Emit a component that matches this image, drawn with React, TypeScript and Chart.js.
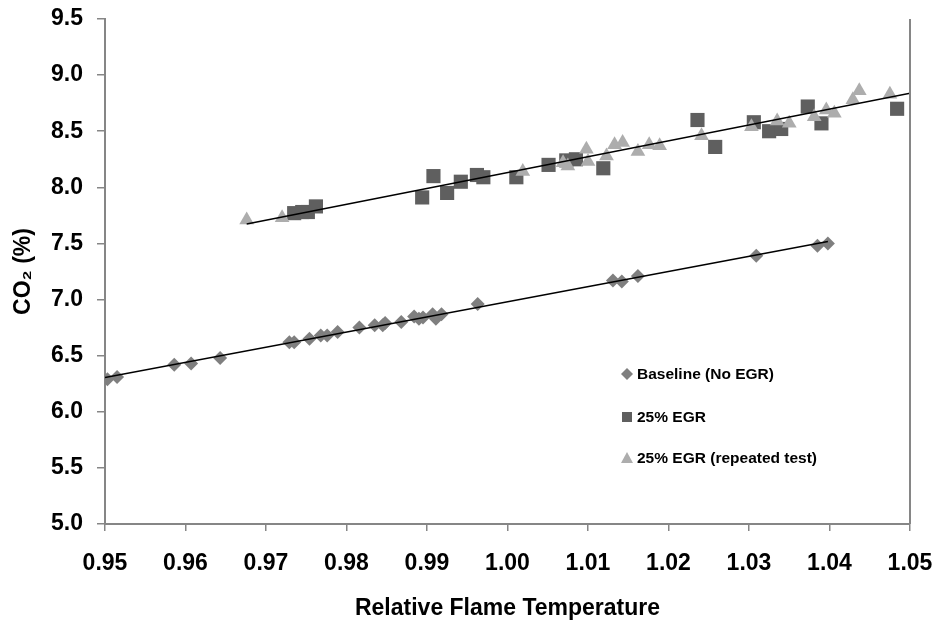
import React, { useEffect, useRef } from 'react';
import { Chart, registerables } from 'chart.js';

Chart.register(...registerables);

// ---- Data ----
const baselineX = [0.9503, 0.9515, 0.9586, 0.9607, 0.9643, 0.9729, 0.9735, 0.9754, 0.9768, 0.9776, 0.9789, 0.9816, 0.9835, 0.9845, 0.9848, 0.9868, 0.9884, 0.989, 0.9895, 0.9907, 0.9911, 0.9918, 0.9963, 1.0131, 1.0142, 1.0162, 1.0309, 1.0385, 1.0398];
const baselineY = [6.29, 6.31, 6.42, 6.43, 6.48, 6.62, 6.62, 6.65, 6.68, 6.68, 6.71, 6.75, 6.77, 6.77, 6.79, 6.8, 6.85, 6.83, 6.84, 6.87, 6.83, 6.87, 6.96, 7.17, 7.16, 7.21, 7.39, 7.48, 7.5];

const egrX = [0.9735, 0.9745, 0.9752, 0.9762, 0.9894, 0.9908, 0.9925, 0.9942, 0.9962, 0.997, 1.0011, 1.0051, 1.0073, 1.0085, 1.0119, 1.0236, 1.0258, 1.0306, 1.0325, 1.034, 1.0373, 1.039, 1.0484];
const egrY = [7.77, 7.78, 7.78, 7.83, 7.91, 8.1, 7.95, 8.05, 8.11, 8.09, 8.09, 8.2, 8.24, 8.25, 8.17, 8.6, 8.36, 8.58, 8.5, 8.52, 8.72, 8.57, 8.7];

const repX = [0.9676, 0.972, 1.0019, 1.0069, 1.0075, 1.0098, 1.01, 1.0123, 1.0133, 1.0143, 1.0162, 1.0176, 1.0189, 1.0241, 1.0303, 1.0335, 1.035, 1.0381, 1.0396, 1.0406, 1.0429, 1.0437, 1.0475];
const repY = [7.71, 7.73, 8.14, 8.22, 8.19, 8.34, 8.23, 8.28, 8.38, 8.4, 8.32, 8.38, 8.37, 8.46, 8.54, 8.59, 8.57, 8.63, 8.69, 8.66, 8.78, 8.86, 8.83];

const seriesLabels = ['Baseline (No EGR)', '25% EGR', '25% EGR (repeated test)'];
const xTickValues = [0.95, 0.96, 0.97, 0.98, 0.99, 1.0, 1.01, 1.02, 1.03, 1.04, 1.05];
const yTickValues = [5.0, 5.5, 6.0, 6.5, 7.0, 7.5, 8.0, 8.5, 9.0, 9.5];

const X_MIN = 0.95;
const X_MAX = 1.05;
const Y_MIN = 5.0;
const Y_MAX = 9.5;

const COLOR_BASE = '#7f7f7f';
const COLOR_EGR = '#5f5f5f';
const COLOR_REP = '#adadad';
const AXIS_COLOR = '#868686';
const FONT = "'Liberation Sans', Arial, sans-serif";

function pts(xs: number[], ys: number[]) {
  return xs.map((x, i) => ({ x, y: ys[i] }));
}

function linReg(xs: number[], ys: number[]) {
  const n = xs.length;
  let sx = 0, sy = 0, sxx = 0, sxy = 0;
  for (let i = 0; i < n; i++) {
    sx += xs[i]; sy += ys[i]; sxx += xs[i] * xs[i]; sxy += xs[i] * ys[i];
  }
  const m = (n * sxy - sx * sy) / (n * sxx - sx * sx);
  const b = (sy - m * sx) / n;
  return (x: number) => m * x + b;
}

const baseFit = linReg(baselineX, baselineY);
const egrFit = linReg(repX, repY);
const baseTrendX = [X_MIN, Math.max(...baselineX)];
const egrTrendX = [Math.min(...repX), X_MAX];

const legendPlugin = {
  id: 'insideLegend',
  afterDraw(chart: any) {
    const { ctx } = chart;
    const items = [
      { label: seriesLabels[0], style: 'diamond', color: COLOR_BASE },
      { label: seriesLabels[1], style: 'square', color: COLOR_EGR },
      { label: seriesLabels[2], style: 'triangle', color: COLOR_REP },
    ];
    const mx = 627;
    const ys = [374, 417, 458];
    ctx.save();
    items.forEach((it, i) => {
      const y = ys[i];
      ctx.fillStyle = it.color;
      ctx.beginPath();
      if (it.style === 'diamond') {
        const r = 6;
        ctx.moveTo(mx - r, y); ctx.lineTo(mx, y - r); ctx.lineTo(mx + r, y); ctx.lineTo(mx, y + r);
      } else if (it.style === 'square') {
        const h = 5;
        ctx.rect(mx - h, y - h, 2 * h, 2 * h);
      } else {
        ctx.moveTo(mx, y - 6); ctx.lineTo(mx + 6, y + 5); ctx.lineTo(mx - 6, y + 5);
      }
      ctx.closePath();
      ctx.fill();
      ctx.fillStyle = '#000';
      ctx.font = `bold 15.5px ${FONT}`;
      ctx.textBaseline = 'middle';
      ctx.textAlign = 'left';
      ctx.fillText(it.label, 637, y + 1);
    });
    ctx.restore();
  },
};

const rightBorderPlugin = {
  id: 'rightBorder',
  afterDatasetsDraw(chart: any) {
    const { ctx, chartArea } = chart;
    ctx.save();
    ctx.strokeStyle = AXIS_COLOR;
    ctx.lineWidth = 2;
    ctx.beginPath();
    ctx.moveTo(chartArea.right, chartArea.top);
    ctx.lineTo(chartArea.right, chartArea.bottom);
    ctx.stroke();
    ctx.restore();
  },
};

export default function App() {
  const ref = useRef<HTMLCanvasElement | null>(null);

  useEffect(() => {
    if (!ref.current) return;
    const chart = new Chart(ref.current, {
      type: 'scatter',
      data: {
        datasets: [
          {
            type: 'line',
            label: 'trend-base',
            data: baseTrendX.map((x) => ({ x, y: baseFit(x) })),
            borderColor: '#000',
            borderWidth: 1.5,
            pointRadius: 0,
            fill: false,
            order: 0,
          } as any,
          {
            type: 'line',
            label: 'trend-egr',
            data: egrTrendX.map((x) => ({ x, y: egrFit(x) })),
            borderColor: '#000',
            borderWidth: 1.5,
            pointRadius: 0,
            fill: false,
            order: 0,
          } as any,
          {
            label: seriesLabels[2],
            data: pts(repX, repY),
            pointStyle: 'triangle',
            pointRadius: 8.5,
            backgroundColor: COLOR_REP,
            borderWidth: 0,
            order: 1,
          },
          {
            label: seriesLabels[1],
            data: pts(egrX, egrY),
            pointStyle: 'rect',
            pointRadius: 10,
            backgroundColor: COLOR_EGR,
            borderWidth: 0,
            order: 2,
          },
          {
            label: seriesLabels[0],
            data: pts(baselineX, baselineY),
            pointStyle: 'rectRot',
            pointRadius: 7,
            backgroundColor: COLOR_BASE,
            borderWidth: 0,
            order: 3,
          },
        ],
      },
      options: {
        animation: false,
        responsive: false,
        layout: { padding: { top: 19, right: 35, bottom: 0, left: 0 } },
        plugins: {
          legend: { display: false },
          tooltip: { enabled: false },
        },
        scales: {
          x: {
            type: 'linear',
            min: X_MIN,
            max: X_MAX,
            afterBuildTicks: (scale: any) => {
              scale.ticks = xTickValues.map((v) => ({ value: v }));
            },
            afterFit: (scale: any) => {
              scale.height = 103;
              scale.paddingLeft = 0;
              scale.paddingRight = 0;
            },
            ticks: {
              color: '#000',
              font: { family: FONT, size: 23, weight: 'bold' },
              padding: 19,
              maxRotation: 0,
              autoSkip: false,
              callback: (v: any) => Number(v).toFixed(2),
            },
            grid: {
              display: true,
              drawOnChartArea: false,
              drawTicks: true,
              tickLength: 7,
              color: AXIS_COLOR,
              lineWidth: 1.5,
            },
            border: { display: true, color: AXIS_COLOR, width: 2 },
            title: {
              display: true,
              text: 'Relative Flame Temperature',
              color: '#000',
              font: { family: FONT, size: 23, weight: 'bold' },
              padding: { top: 0, bottom: 5 },
            },
          },
          y: {
            type: 'linear',
            min: Y_MIN,
            max: Y_MAX,
            afterBuildTicks: (scale: any) => {
              scale.ticks = yTickValues.map((v) => ({ value: v }));
            },
            afterFit: (scale: any) => {
              scale.width = 105;
              scale.paddingTop = 0;
              scale.paddingBottom = 0;
            },
            ticks: {
              color: '#000',
              font: { family: FONT, size: 23, weight: 'bold' },
              padding: 14,
              autoSkip: false,
              callback: (v: any) => Number(v).toFixed(1),
            },
            grid: {
              display: true,
              drawOnChartArea: false,
              drawTicks: true,
              tickLength: 8,
              color: AXIS_COLOR,
              lineWidth: 1.5,
            },
            border: { display: true, color: AXIS_COLOR, width: 2 },
            title: {
              display: true,
              text: 'CO\u2082 (%)',
              color: '#000',
              font: { family: FONT, size: 23, weight: 'bold' },
              padding: { top: 10, bottom: 0 },
            },
          },
        },
      },
      plugins: [rightBorderPlugin, legendPlugin],
    } as any);
    return () => chart.destroy();
  }, []);

  return (
    <div style={{ position: 'fixed', left: 0, top: 0, width: 945, height: 627, background: '#fff' }}>
      <canvas ref={ref} width={945} height={627} />
    </div>
  );
}
